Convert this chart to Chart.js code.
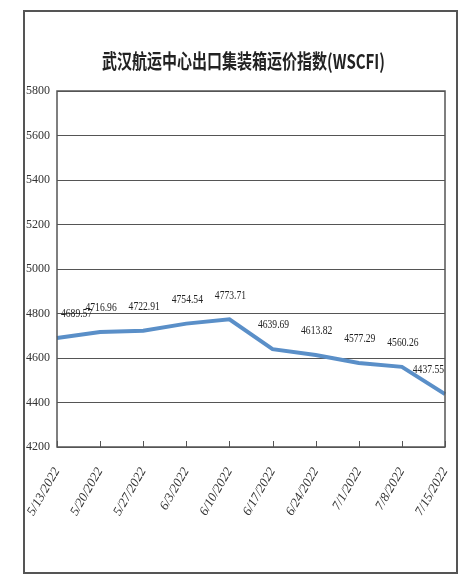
<!DOCTYPE html>
<html>
<head>
<meta charset="utf-8">
<script src="https://cdn.jsdelivr.net/npm/chart.js@4"></script>
<style>
  html, body { margin: 0; padding: 0; background: #fff; }
  #box {
    position: absolute; left: 23px; top: 10px;
    width: 431px; height: 560px;
    border: 2px solid #555;
    box-sizing: content-box;
  }
</style>
</head>
<body>
<div id="box"><canvas id="myChart" width="431" height="560"></canvas></div>
<script>
const chartTitle = '武汉航运中心出口集装箱运价指数(WSCFI)';
const dates = ['5/13/2022', '5/20/2022', '5/27/2022', '6/3/2022', '6/10/2022',
  '6/17/2022', '6/24/2022', '7/1/2022', '7/8/2022', '7/15/2022'];
const wscfi = [4689.57, 4716.96, 4722.91, 4754.54, 4773.71,
  4639.69, 4613.82, 4577.29, 4560.26, 4437.55];
const yTicks = [4200, 4400, 4600, 4800, 5000, 5200, 5400, 5600, 5800];

const gridColor = '#555';
const serif = '"Liberation Serif", "DejaVu Serif", serif';

// title drawn slightly condensed, like the original
const titlePlugin = {
  id: 'condensedTitle',
  afterDraw(chart) {
    const ctx = chart.ctx;
    ctx.save();
    ctx.translate(chart.width / 2 + 3, 49);
    ctx.scale(0.75, 1);
    ctx.font = 'bold 20px "Noto Sans CJK SC", sans-serif';
    ctx.fillStyle = '#222';
    ctx.textAlign = 'center';
    ctx.textBaseline = 'middle';
    ctx.fillText(chartTitle, 0, 0);
    ctx.restore();
  }
};

// value labels above each point + frame and inner tick marks
const labelPlugin = {
  id: 'valueLabels',
  afterDatasetsDraw(chart) {
    const { ctx, chartArea } = chart;
    const meta = chart.getDatasetMeta(0);
    const xs = chart.scales.x;
    ctx.save();
    // plot frame
    ctx.strokeStyle = gridColor;
    ctx.lineWidth = 1.5;
    ctx.strokeRect(chartArea.left, chartArea.top, chartArea.right - chartArea.left, chartArea.bottom - chartArea.top);
    // small ticks inside the bottom axis
    ctx.lineWidth = 1;
    xs.ticks.forEach((t, i) => {
      const x = Math.round(xs.getPixelForTick(i)) + 0.5;
      ctx.beginPath();
      ctx.moveTo(x, chartArea.bottom);
      ctx.lineTo(x, chartArea.bottom - 6);
      ctx.stroke();
    });
    // labels, drawn a bit condensed
    ctx.fillStyle = '#222';
    ctx.font = '12px ' + serif;
    ctx.textBaseline = 'middle';
    meta.data.forEach((pt, i) => {
      const txt = wscfi[i].toFixed(2);
      const w = ctx.measureText(txt).width * 0.8;
      let cx = pt.x + 1;
      cx = Math.max(chartArea.left + 4 + w / 2, Math.min(chartArea.right - 1 - w / 2, cx));
      ctx.save();
      ctx.translate(cx, pt.y - 24);
      ctx.scale(0.8, 1);
      ctx.textAlign = 'center';
      ctx.fillText(txt, 0, 0);
      ctx.restore();
    });
    ctx.restore();
  }
};

new Chart(document.getElementById('myChart'), {
  type: 'line',
  data: {
    labels: dates,
    datasets: [{
      data: wscfi,
      borderColor: '#5a8fc8',
      borderWidth: 4,
      pointRadius: 0,
      tension: 0,
      fill: false,
    }],
  },
  options: {
    responsive: false,
    animation: false,
    layout: { padding: { top: 79, right: 11, bottom: 0, left: 0 } },
    plugins: {
      legend: { display: false },
      tooltip: { enabled: false },
      title: { display: false },
    },
    scales: {
      x: {
        offset: false,
        grid: { display: false },
        border: { display: false },
        ticks: {
          color: '#333',
          font: { family: serif, size: 13, style: 'italic' },
          minRotation: 60,
          maxRotation: 60,
          padding: 10,
          autoSkip: false,
        },
        afterFit(s) {
          s.height = 125;
          s.paddingLeft = 0;
          s.paddingRight = 0;
        },
      },
      y: {
        min: 4200,
        max: 5800,
        afterBuildTicks(s) { s.ticks = yTicks.map(v => ({ value: v })); },
        grid: { color: gridColor, lineWidth: 1, drawTicks: false },
        border: { display: false },
        ticks: {
          color: '#333',
          font: { family: serif, size: 12 },
          padding: 7,
          callback: v => String(v),
        },
        afterFit(s) {
          s.width = 32;
          s.paddingTop = 6;
          s.paddingBottom = 0;
        },
      },
    },
  },
  plugins: [labelPlugin, titlePlugin],
});
</script>
</body>
</html>
